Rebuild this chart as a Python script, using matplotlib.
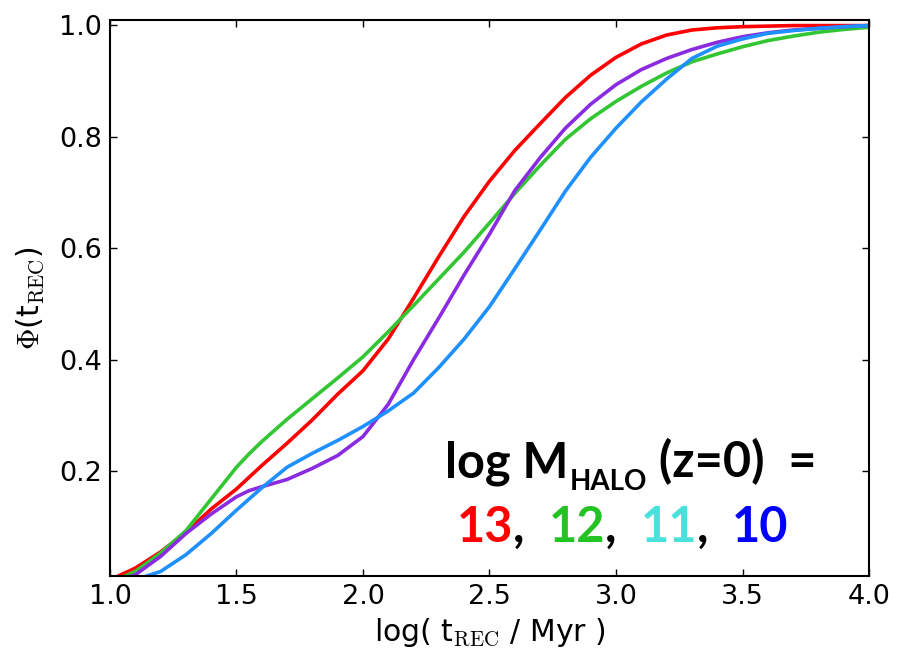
import matplotlib
matplotlib.use("Agg")
import matplotlib.pyplot as plt

# ---- data ----
x = [1.0, 1.1, 1.2, 1.3, 1.4, 1.5, 1.55, 1.6, 1.7, 1.8, 1.9, 2.0, 2.1, 2.2, 2.3, 2.4,
     2.5, 2.6, 2.7, 2.8, 2.9, 3.0, 3.1, 3.2, 3.3, 3.4, 3.5, 3.6, 3.7, 3.8, 3.9, 4.0]

phi_13 = [0.005, 0.026, 0.055, 0.090, 0.132, 0.168, 0.189, 0.210, 0.250, 0.292, 0.338, 0.380,
          0.437, 0.510, 0.585, 0.657, 0.720, 0.775, 0.823, 0.870, 0.910, 0.942, 0.966,
          0.982, 0.991, 0.995, 0.997, 0.998, 0.999, 0.999, 0.999, 0.999]
phi_12 = [0.000, 0.020, 0.053, 0.093, 0.150, 0.207, 0.231, 0.253, 0.293, 0.330, 0.367, 0.405,
          0.450, 0.497, 0.545, 0.593, 0.645, 0.698, 0.748, 0.795, 0.832, 0.863, 0.890,
          0.914, 0.934, 0.948, 0.961, 0.972, 0.980, 0.987, 0.992, 0.996]
phi_11 = [0.000, 0.014, 0.047, 0.088, 0.123, 0.154, 0.165, 0.172, 0.185, 0.205, 0.228, 0.262,
          0.320, 0.400, 0.475, 0.552, 0.625, 0.703, 0.762, 0.815, 0.858, 0.893, 0.920,
          0.940, 0.956, 0.969, 0.979, 0.986, 0.991, 0.994, 0.997, 0.999]
phi_10 = [0.000, 0.005, 0.020, 0.050, 0.088, 0.130, 0.150, 0.170, 0.207, 0.232, 0.255, 0.280,
          0.308, 0.340, 0.386, 0.437, 0.495, 0.563, 0.632, 0.702, 0.763, 0.815, 0.862,
          0.903, 0.940, 0.962, 0.975, 0.985, 0.990, 0.994, 0.997, 0.999]

series = [phi_13, phi_12, phi_11, phi_10]
line_colors = ['#ff0000', '#33c633', '#8a2be2', '#1e90ff']

legend_labels = ['13', '12', '11', '10']
legend_colors = ['#ff0000', '#22c322', '#4ae0dc', '#0000ff']

xticks = [1.0, 1.5, 2.0, 2.5, 3.0, 3.5, 4.0]
yticks = [0.2, 0.4, 0.6, 0.8, 1.0]

# ---- figure ----
W, H = 897, 653
fig = plt.figure(figsize=(W / 100, H / 100), dpi=100)
ax = fig.add_axes([0.1226, 0.118, 0.8462, 0.8514])

for ys, c in zip(series, line_colors):
    ax.plot(x, ys, color=c, lw=2.6)

ax.set_xlim(1.0, 4.0)
ax.set_ylim(0.012, 1.009)
ax.set_xticks(xticks)
ax.set_yticks(yticks)
ax.set_xticklabels([f"{t:.1f}" for t in xticks])
ax.set_yticklabels([f"{t:.1f}" for t in yticks])
ax.tick_params(direction='in', top=True, right=True, length=5, width=1.0,
               labelsize=19.5, pad=6)
for s in ax.spines.values():
    s.set_linewidth(1.5)

ax.set_xlabel(r"log( t$_{\rm REC}$ / Myr )", fontsize=21.5, math_fontfamily='cm', labelpad=4)
ax.set_ylabel(r"$\Phi$(t$_{\rm REC}$)", fontsize=21.5, math_fontfamily='cm', labelpad=9)

# ---- annotation "legend" placed piecewise in pixel coordinates ----
fam = 'Lato'
renderer = fig.canvas.get_renderer()


def put(s, px, py, size, color='black'):
    t = fig.text(px / W, 1 - py / H, s, fontsize=size, fontweight='bold', family=fam,
                 color=color, ha='left', va='baseline')
    bb = t.get_window_extent(renderer)
    return bb.x1


xe = put("log M", 445, 477, 35)
xe = put("HALO", xe + 1, 490, 20)
put(" (z=0)  =", xe, 477, 35)

xe = put(legend_labels[0], 457, 542, 35, legend_colors[0])
for lab, col in zip(legend_labels[1:], legend_colors[1:]):
    xe = put(",  ", xe, 542, 35)
    xe = put(lab, xe, 542, 35, col)

fig.savefig("out.png", dpi=100)
